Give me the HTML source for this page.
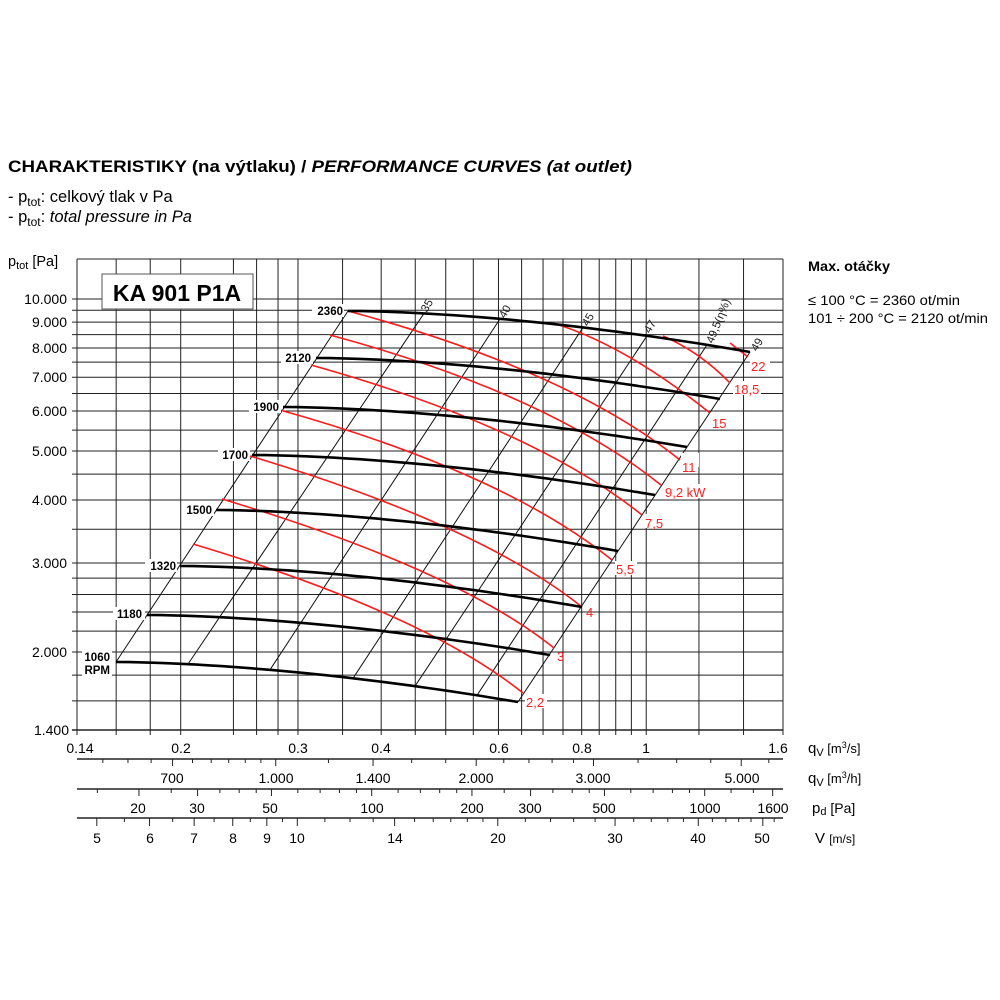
<!DOCTYPE html>
<html><head><meta charset="utf-8"><style>
html,body{margin:0;padding:0;background:#fff;width:1000px;height:1000px;overflow:hidden}
svg{position:absolute;left:0;top:0}
text{font-family:"Liberation Sans",Arial,sans-serif}
.yl text{font-size:14px;text-anchor:end;fill:#000}
.xl text{font-size:14px;text-anchor:middle;fill:#000}
.rpm text{font-size:11.5px;font-weight:bold;text-anchor:end;fill:#000}
.red text{fill:#ff2020;font-size:13px}
.eff text{font-size:11.5px;fill:#222}
</style></head><body>
<svg id="s" width="1000" height="1000" xmlns="http://www.w3.org/2000/svg">
<g id="grid" stroke="#222" stroke-width="1"></g>
<g id="ticks" stroke="#222" stroke-width="1"></g>
<g id="curves"></g>
<text x="8" y="172" textLength="624" lengthAdjust="spacingAndGlyphs" style="font-size:17px;font-weight:bold">CHARAKTERISTIKY (na výtlaku) / <tspan font-style="italic">PERFORMANCE CURVES (at outlet)</tspan></text>
<text x="8" y="202" style="font-size:16.5px">- p<tspan font-size="12" dy="4">tot</tspan><tspan dy="-4">: celkový tlak v Pa</tspan></text>
<text x="8" y="222" style="font-size:16.5px">- p<tspan font-size="12" dy="4">tot</tspan><tspan dy="-4">: </tspan><tspan font-style="italic">total pressure in Pa</tspan></text>
<text x="8" y="266" style="font-size:14.5px">p<tspan font-size="11" dy="3">tot</tspan><tspan dy="-3"> [Pa]</tspan></text>
<text x="808" y="271" textLength="82" lengthAdjust="spacingAndGlyphs" style="font-size:14px;font-weight:bold">Max. otáčky</text>
<text x="808" y="305" textLength="152" lengthAdjust="spacingAndGlyphs" style="font-size:14px">≤ 100 °C = 2360 ot/min</text>
<text x="808" y="323" textLength="180" lengthAdjust="spacingAndGlyphs" style="font-size:14px">101 ÷ 200 °C = 2120 ot/min</text>
<rect x="102" y="274" width="151" height="35" fill="#fff" stroke="#555" stroke-width="1"/>
<text x="177" y="301" style="font-size:23px;font-weight:bold;text-anchor:middle">KA 901 P1A</text>
<g class="yl">
<text x="67" y="304">10.000</text><text x="67" y="327">9.000</text><text x="67" y="353">8.000</text>
<text x="67" y="382">7.000</text><text x="67" y="416">6.000</text><text x="67" y="456">5.000</text>
<text x="67" y="505">4.000</text><text x="67" y="568">3.000</text><text x="67" y="657">2.000</text>
<text x="69" y="735">1.400</text></g>
<g class="xl">
<text x="80" y="753">0.14</text><text x="181" y="753">0.2</text><text x="298" y="753">0.3</text>
<text x="381" y="753">0.4</text><text x="499" y="753">0.6</text><text x="582" y="753">0.8</text>
<text x="646" y="753">1</text><text x="778" y="753">1.6</text>
<text x="172" y="783">700</text><text x="276" y="783">1.000</text><text x="373" y="783">1.400</text>
<text x="476" y="783">2.000</text><text x="593" y="783">3.000</text><text x="742" y="783">5.000</text>
<text x="138" y="813">20</text><text x="197" y="813">30</text><text x="270" y="813">50</text>
<text x="372" y="813">100</text><text x="472" y="813">200</text><text x="530" y="813">300</text>
<text x="604" y="813">500</text><text x="705" y="813">1000</text><text x="773" y="813">1600</text>
<text x="97" y="843">5</text><text x="150" y="843">6</text><text x="194" y="843">7</text>
<text x="233" y="843">8</text><text x="267" y="843">9</text><text x="297" y="843">10</text>
<text x="395" y="843">14</text><text x="498" y="843">20</text><text x="615" y="843">30</text>
<text x="698" y="843">40</text><text x="762" y="843">50</text></g>
<g style="font-size:15px">
<text x="808" y="753">q<tspan font-size="11" dy="3">V</tspan><tspan dy="-3" font-size="13"> [m</tspan><tspan font-size="9" dy="-5">3</tspan><tspan font-size="13" dy="5">/s]</tspan></text>
<text x="808" y="783">q<tspan font-size="11" dy="3">V</tspan><tspan dy="-3" font-size="13"> [m</tspan><tspan font-size="9" dy="-5">3</tspan><tspan font-size="13" dy="5">/h]</tspan></text>
<text x="812" y="813">p<tspan font-size="11" dy="2">d</tspan><tspan dy="-2" font-size="14"> [Pa]</tspan></text>
<text x="815" y="843">V <tspan font-size="12">[m/s]</tspan></text></g>
<g class="rpm">
<rect x="312" y="304" width="32" height="13" fill="#fff"/><text x="343" y="315">2360</text>
<rect x="281" y="351" width="32" height="13" fill="#fff"/><text x="311" y="362">2120</text>
<rect x="249" y="400" width="32" height="13" fill="#fff"/><text x="279" y="411">1900</text>
<rect x="218" y="448" width="32" height="13" fill="#fff"/><text x="248" y="459">1700</text>
<rect x="182" y="503" width="32" height="13" fill="#fff"/><text x="212" y="514">1500</text>
<rect x="145" y="559" width="32" height="13" fill="#fff"/><text x="176" y="570">1320</text>
<rect x="113" y="607" width="32" height="13" fill="#fff"/><text x="142" y="618">1180</text>
<rect x="82" y="650" width="30" height="26" fill="#fff"/><text x="110" y="661">1060</text><text x="110" y="674">RPM</text>
</g>
<g class="red">
<rect x="750" y="359" width="20" height="14" fill="#fff"/><text x="751" y="371">22</text>
<rect x="733" y="381" width="28" height="14" fill="#fff"/><text x="734" y="394">18,5</text>
<rect x="711" y="415" width="18" height="14" fill="#fff"/><text x="712" y="428">15</text>
<rect x="681" y="453" width="18" height="14" fill="#fff"/><text x="682" y="472">11</text>
<rect x="664" y="484" width="42" height="14" fill="#fff"/><text x="665" y="497">9,2 kW</text>
<rect x="644" y="514" width="22" height="14" fill="#fff"/><text x="645" y="528">7,5</text>
<rect x="615" y="561" width="22" height="14" fill="#fff"/><text x="616" y="574">5,5</text>
<text x="586" y="617">4</text><text x="557" y="661">3</text>
<rect x="525" y="694" width="22" height="14" fill="#fff"/><text x="526" y="707">2,2</text>
</g>
<g class="eff">
<text transform="translate(427,313) rotate(-60)">35</text>
<text transform="translate(505,319) rotate(-60)">40</text>
<text transform="translate(588,327) rotate(-60)">45</text>
<text transform="translate(650,334) rotate(-60)">47</text>
<text transform="translate(713,344) rotate(-68)">49,5(η%)</text>
<text transform="translate(757,352) rotate(-60)">49</text>
</g>
</svg>
<script>
var NS="http://www.w3.org/2000/svg";
function el(p,t,a){var e=document.createElementNS(NS,t);for(var k in a)e.setAttribute(k,a[k]);document.getElementById(p).appendChild(e);return e;}
function X(q){return 180.7+666*Math.log10(q/0.2);}
function Y(p){return 299+505*Math.log10(10000/p);}
var L=77,R=783,T=259,B=730;
[0.16,0.18,0.2,0.24,0.26,0.28,0.3,0.35,0.4,0.45,0.5,0.55,0.6,0.65,0.7,0.75,0.8,0.85,0.9,0.95,1,1.2,1.4].forEach(function(q){var x=X(q);el("grid","line",{x1:x,x2:x,y1:T,y2:B+5});});
[1600,1800,2000,2200,2400,2600,2800,3000,3500,4000,4500,5000,5500,6000,6500,7000,7500,8000,8500,9000,9500,10000].forEach(function(p){var y=Y(p);el("grid","line",{x1:72,x2:R,y1:y,y2:y});});
el("grid","line",{x1:L,x2:R,y1:T,y2:T});el("grid","line",{x1:L,x2:L,y1:T,y2:B+5});el("grid","line",{x1:R,x2:R,y1:T,y2:B+5});
el("grid","line",{x1:72,x2:R,y1:B,y2:B,"stroke-width":1.5});
[759,789,818].forEach(function(y){el("ticks","line",{x1:L,x2:R,y1:y,y2:y,"stroke-width":1.5});});
function tk(x,y,len){if(x<L-1||x>R+1)return;el("ticks","line",{x1:x,x2:x,y1:y,y2:y+len});}
[550,600,650,750,800,850,900,950,1200,1600,1800,2200,2400,2600,2800,3500,4000,4500,5500].forEach(function(h){tk(X(h/3600),759,4);});
[700,1000,1400,2000,3000,5000].forEach(function(h){tk(X(h/3600),759,7);});
function XP(p){return 371.7+333*Math.log10(p/100);}
[15,25,35,40,45,60,70,80,90,120,140,160,180,250,350,400,450,600,700,800,900,1200,1400].forEach(function(p){tk(XP(p),789,4);});
[20,30,50,100,200,300,500,1000,1600].forEach(function(p){tk(XP(p),789,7);});
function XV(v){return 297.3+666*Math.log10(v/10);}
[5.5,6.5,7.5,8.5,9.5,11,12,13,15,16,17,18,19,22,24,26,28,32,34,36,38,42,44,46,48,52].forEach(function(v){tk(XV(v),818,4);});
[5,6,7,8,9,10,14,20,30,40,50].forEach(function(v){tk(XV(v),818,8);});
var bx=[116,188,270,353,415,477,518],tx=[348,424,500,583,647,707,750];
function rpmY(i,x){var c=rp[i];var t=(x-c[0])/(c[2]-c[0]);t=Math.max(0,Math.min(1,t));return c[1]+(c[3]-c[1])*Math.pow(t,1.7);}
var rp=[[348,311,750,352],[316,358,720,399],[283,407,687,447],[252,455,655,495],[216,510,618,551],[180,566,582,607],[147,615,550,655],[116,662,518,702]];
for(var i=0;i<bx.length;i++){var x0=bx[i],x1=tx[i];el("curves","line",{x1:x0,y1:rpmY(7,x0),x2:x1,y2:rpmY(0,x1),stroke:"#111","stroke-width":1});}
function redc(x0,y0,x1,y1,s0,s1){var cx=(y1-y0+s0*x0-s1*x1)/(s0-s1);var cy=y0+s0*(cx-x0);
el("curves","path",{d:"M"+x0+","+y0+" Q"+cx.toFixed(1)+","+cy.toFixed(1)+" "+x1+","+y1,fill:"none",stroke:"#ff1a1a","stroke-width":1.6});}
redc(348,311,680,460,0.27,0.8);redc(330,335,661,485,0.27,0.8);redc(311,365,642,515,0.28,0.8);
redc(280,410,612,560,0.28,0.8);redc(250,456,582,607,0.3,0.8);redc(222,499,554,648,0.3,0.8);redc(193,544,523,693,0.3,0.8);
el("curves","path",{d:"M553,323 Q625,345 710,413",fill:"none",stroke:"#ff1a1a","stroke-width":1.6});
el("curves","path",{d:"M663,336 Q700,352 730,383",fill:"none",stroke:"#ff1a1a","stroke-width":1.6});
el("curves","line",{x1:730,y1:343,x2:748,y2:357,stroke:"#ff1a1a","stroke-width":1.6});
rp.forEach(function(c,i){var pts=[];for(var k=0;k<=30;k++){var x=c[0]+(c[2]-c[0])*k/30;pts.push(x.toFixed(1)+","+rpmY(i,x).toFixed(1));}
el("curves","polyline",{points:pts.join(" "),fill:"none",stroke:"#000","stroke-width":2.6});});
</script>
</body></html>
